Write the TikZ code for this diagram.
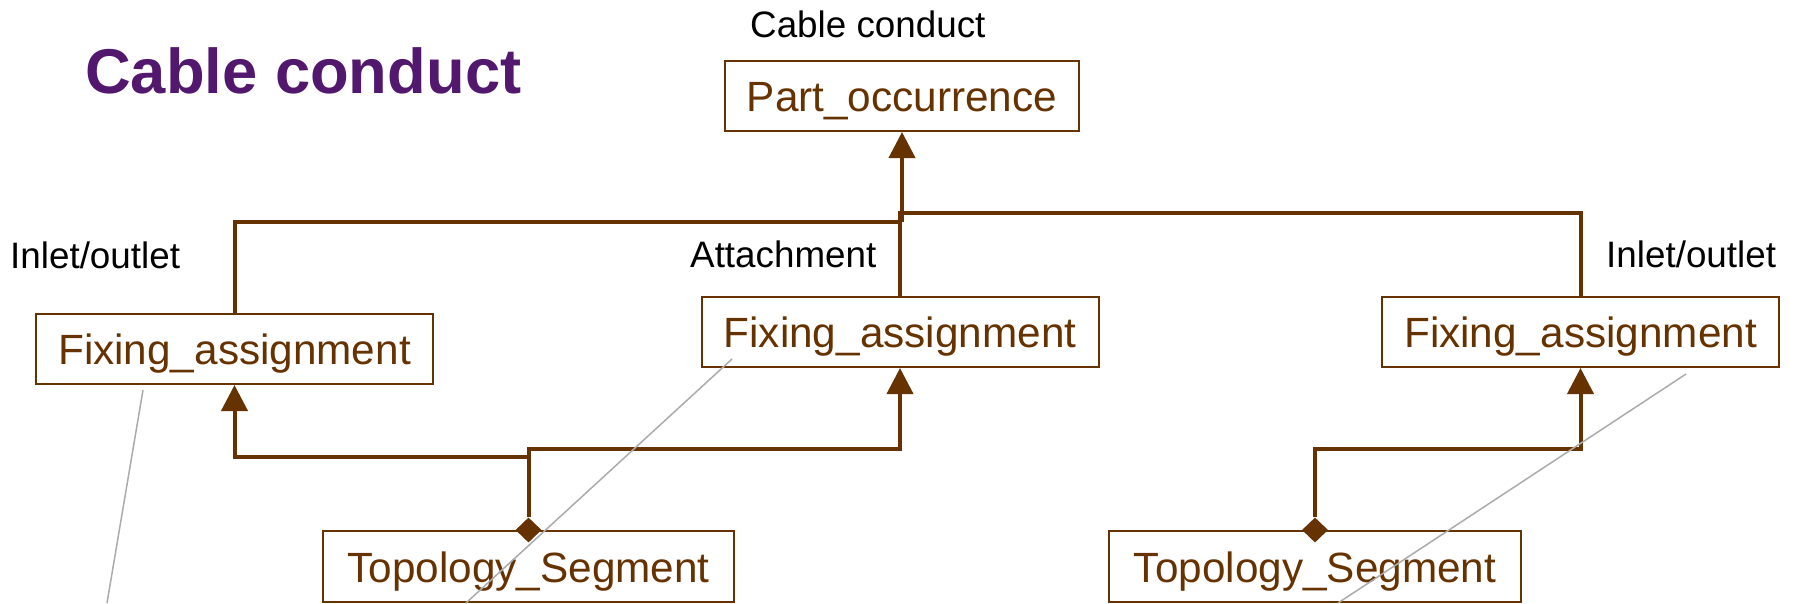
\documentclass[tikz,border=0pt]{standalone}
\usepackage{fontspec}
\setmainfont{Liberation Sans}
\usetikzlibrary{arrows.meta,shapes.geometric}
\definecolor{umlbrown}{HTML}{663300}
\definecolor{titlepurple}{HTML}{52186E}
\definecolor{leadergrey}{HTML}{ABABAB}
\begin{document}
\begin{tikzpicture}[x=1pt,y=-1pt,
  umlbox/.style={draw=umlbrown, line width=2pt, fill=white, text=umlbrown,
    inner sep=0pt, minimum height=70pt,
    font=\fontsize{42.3}{50}\selectfont, text height=31pt, text depth=0pt},
  rolelabel/.style={anchor=base west, inner sep=0pt, text=black,
    font=\fontsize{36.8}{44}\selectfont},
  conn/.style={draw=umlbrown, line width=4pt},
  inherit/.style={conn, -{Triangle[length=26pt,width=26pt]}},
  aggr/.style={diamond, fill=umlbrown, inner sep=0pt,
    minimum width=26pt, minimum height=25pt},
  leader/.style={draw=leadergrey, line width=1.5pt}]
\useasboundingbox (0,0) rectangle (1798,603);

% title and labels
\node[anchor=base west, inner sep=0pt, text=titlepurple,
  font=\fontsize{63.3}{70}\selectfont\bfseries] (title) at (85,93) {Cable conduct};
\node[rolelabel] (poname) at (750,37) {Cable conduct};
\node[rolelabel] (lblL) at (10,268) {Inlet/outlet};
\node[rolelabel] (lblM) at (690,267) {Attachment};
\node[rolelabel] (lblR) at (1606,267) {Inlet/outlet};

% classes
\node[umlbox, minimum width=354pt] (po) at (902,96) {Part\_occurrence};
\node[umlbox, minimum width=397pt] (fa1) at (234.5,349) {Fixing\_assignment};
\node[umlbox, minimum width=397pt] (fa2) at (900,332) {Fixing\_assignment};
\node[umlbox, minimum width=397pt] (fa3) at (1580.5,332) {Fixing\_assignment};
\node[umlbox, minimum width=411pt, minimum height=71pt] (ts1) at (528.5,566.5) {Topology\_Segment};
\node[umlbox, minimum width=412pt, minimum height=71pt] (ts2) at (1315,566.5) {Topology\_Segment};

% aggregation diamonds
\node[aggr] (d1) at (ts1.north) {};
\node[aggr] (d2) at (ts2.north) {};

% bends of the connectors
\coordinate (jl) at (902,222);
\coordinate (jr) at (900,213);
\coordinate (bl) at (528.5,457);
\coordinate (bm) at (528.5,449);
\coordinate (br) at (1315,449);

% generalisation to Part_occurrence
\draw[conn] (fa1.north) |- (jl);
\draw[conn] (fa2.north) |- (jr) -| (fa3.north);
\draw[inherit] (jl) -- (po.south);

% Topology_Segment to Fixing_assignment
\draw[inherit] (d1.north) -- (bl) -| (fa1.south);
\draw[inherit] (d1.north) -- (bm) -| (fa2.south);
\draw[inherit] (d2.north) -- (br) -| (fa3.south);

% leader lines
\coordinate (g1a) at (143,390);
\coordinate (g1b) at (107,603);
\coordinate (g2a) at (732,359);
\coordinate (g2b) at (466,603);
\coordinate (g3a) at (1686,374);
\coordinate (g3b) at (1338,603);
\draw[leader] (g1a) -- (g1b);
\draw[leader] (g2a) -- (g2b);
\draw[leader] (g3a) -- (g3b);
\end{tikzpicture}
\end{document}
